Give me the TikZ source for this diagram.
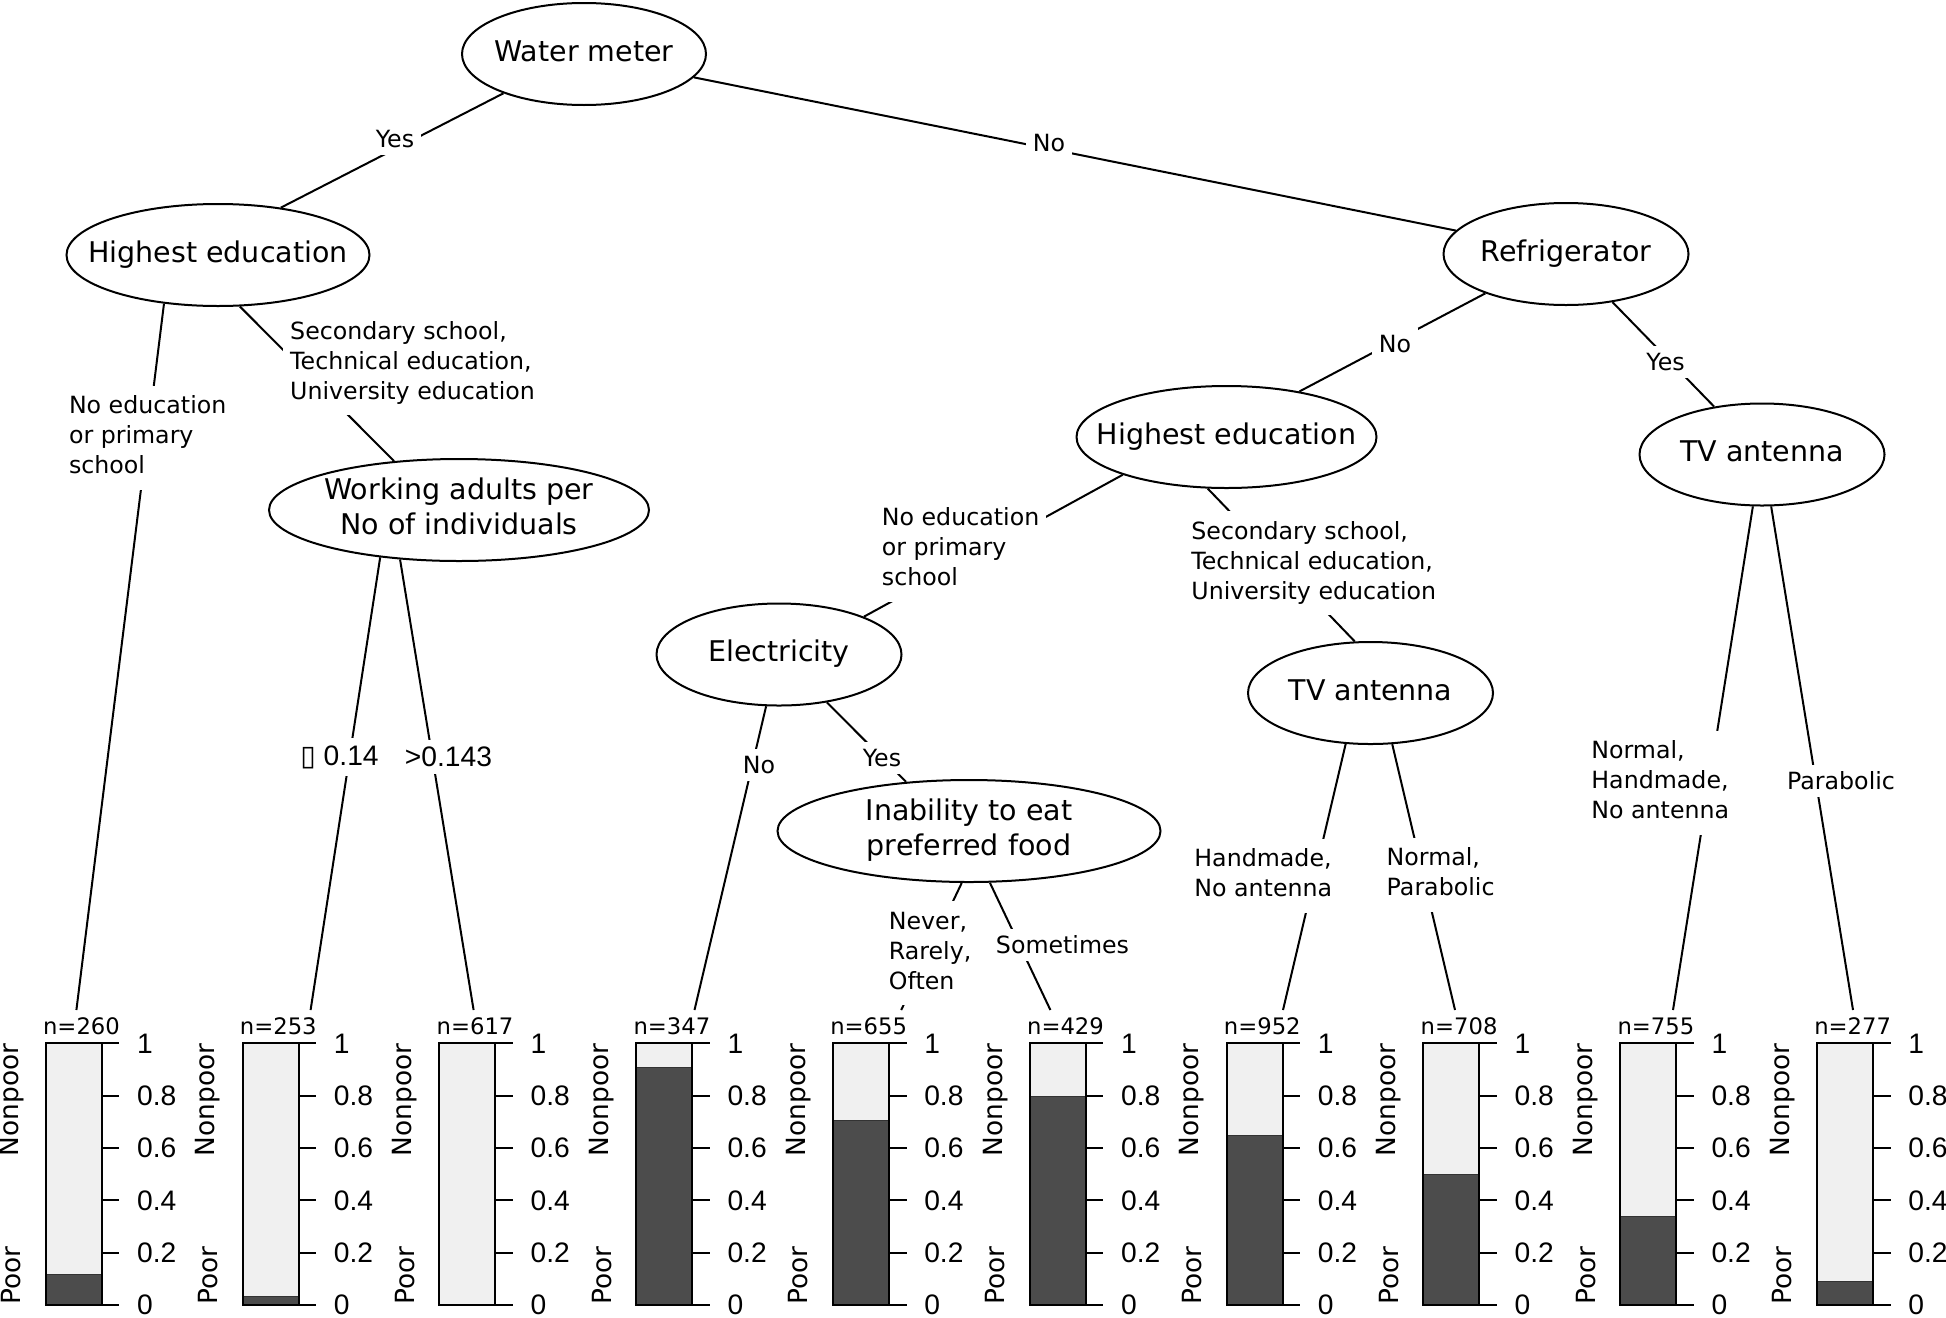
\documentclass[tikz,border=0pt]{standalone}
\usepackage{fontspec}
\setmainfont{DejaVu Sans}
\newfontfamily\arialfont{Liberation Sans}
\usepackage{tikz}
\usetikzlibrary{shapes.geometric}

\newcommand{\splitfont}{\fontsize{14.25pt}{17.75pt}\selectfont}
\newcommand{\labfont}{\fontsize{11.85pt}{15pt}\selectfont}
\newcommand{\thrfont}{\arialfont\fontsize{14.1pt}{16pt}\selectfont}
\newcommand{\clsfont}{\fontsize{13.2pt}{15pt}\selectfont}
\newcommand{\nfont}{\fontsize{11.35pt}{13pt}\selectfont}
\newcommand{\ctr}[1]{\makebox[0pt]{\begin{tabular}{@{}c@{}}#1\end{tabular}}}
\newcommand{\lns}[1]{\begin{tabular}{@{}l@{}}#1\end{tabular}}

\begin{document}
\begin{tikzpicture}[x=0.5pt, y=-0.5pt,
    split/.style={ellipse, draw, line width=1pt, fill=white, inner sep=0pt,
      minimum height=51pt, font=\splitfont},
    branch/.style={line width=1pt},
    lab/.style={fill=white, inner sep=3.5pt, font=\labfont},
    thr/.style={fill=white, inner sep=3.5pt, font=\thrfont},
    barline/.style={line width=1pt},
    ticklab/.style={anchor=west, inner sep=0pt, font=\thrfont},
    cls/.style={rotate=90, inner sep=0pt, font=\clsfont},
    nlab/.style={anchor=west, inner sep=0pt, font=\nfont}]

\useasboundingbox (0,0) rectangle (1946,1317);

% ---- terminal panels: share of poor / nonpoor ----
\foreach \p/\nn/\tx [count=\k] in {0.117/260/76.4, 0.032/253/310.6,
    0/617/473.6, 0.908/347/694.5, 0.704/655/901.2, 0.796/429/1050.4,
    0.647/952/1283, 0.50/708/1455, 0.337/755/1673, 0.092/277/1853}{
  \pgfmathsetmacro{\bx}{45.7+196.8*(\k-1)}
  \pgfmathsetmacro{\ax}{\bx+56}
  \pgfmathsetmacro{\py}{1305-261.7*\p}
  \fill[gray!12] (\bx,1043.3) rectangle (\ax,1305);
  \fill[black!70] (\bx,\py) rectangle (\ax,1305);
  \draw[black!80, line width=0.4pt] (\bx,\py) -- (\ax,\py);
  \draw[barline] (\bx,1043.3) rectangle (\ax,1305);
  \foreach \tl [count=\j from 0] in {0,0.2,0.4,0.6,0.8,1}{
    \draw[barline] (\ax,{1305-52.34*\j}) -- ++(17.6,0);
    \node[ticklab] (tk\k-\j) at ({\ax+35},{1305-52.34*\j}) {\tl};
  }
  \node[cls, anchor=east] (np\k) at ({\bx-34.5},1043.3) {Nonpoor};
  \node[cls, anchor=west] (po\k) at ({\bx-34.5},1305) {Poor};
  \node[nlab] (n\k) at ({\bx-3},1026) {n=\nn};
  \coordinate (t\k) at (\tx,1010);
}

% ---- inner nodes ----
\node[split, minimum width=122pt] (wm) at (584,54) {\ctr{Water meter}};
\node[split, minimum width=151.5pt] (he1) at (218,255) {\ctr{Highest education}};
\node[split, minimum width=122.5pt] (ref) at (1566,254) {\ctr{Refrigerator}};
\node[split, minimum width=190pt] (wa) at (459,510) {\ctr{Working adults per\\No of individuals}};
\node[split, minimum width=150pt] (he2) at (1226.5,437) {\ctr{Highest education}};
\node[split, minimum width=122.5pt] (elec) at (779,654.5) {\ctr{Electricity}};
\node[split, minimum width=122.5pt] (tvm) at (1370.5,693) {\ctr{TV antenna}};
\node[split, minimum width=122.5pt] (tvr) at (1762,454.5) {\ctr{TV antenna}};
\node[split, minimum width=191.5pt] (inab) at (969,831) {\ctr{Inability to eat\\preferred food}};

% ---- branches ----
\draw[branch] (wm.206) -- (he1.37);
\draw[branch] (wm.348.3) -- (ref.168);
\draw[branch] (he1.222) -- (t1);
\draw[branch] (he1.293.3) -- (wa.143);
\draw[branch] (wa.211.3) -- (t2);
\draw[branch] (wa.220.5) -- (t3);
\draw[branch] (ref.206.1) -- (he2.32.4);
\draw[branch] (ref.314.8) -- (tvr.135.3);
\draw[branch] (he2.200.5) -- (elec.24.6);
\draw[branch] (he2.250.4) -- (tvm.107);
\draw[branch] (elec.256) -- (t4);
\draw[branch] (elec.315.7) -- (inab.142.6);
\draw[branch] (inab.262) -- (t5);
\draw[branch] (inab.292.1) -- (t6);
\draw[branch] (tvm.244.4) -- (t7);
\draw[branch] (tvm.293.2) -- (t8);
\draw[branch] (tvr.260.7) -- (t9);
\draw[branch] (tvr.280.7) -- (t10);

% ---- branch labels ----
\node[lab] (yes1) at (395,139) {Yes};
\node[lab] (no1) at (1049,143) {No};
\node[lab, anchor=west] (low1) at (61.6,437.7) {\lns{No education\\or primary\\school}};
\node[lab, anchor=west] (high1) at (282.8,363) {\lns{Secondary school,\\Technical education,\\University education}};
\node[thr] (le1) at (339.5,757) {{\normalfont ▯} 0.14};
\node[thr] (gt1) at (448.5,757) {>0.143};
\node[lab] (no2) at (1395,344) {No};
\node[lab] (yes2) at (1665.5,362) {Yes};
\node[lab, anchor=west] (low2) at (874.5,549.5) {\lns{No education\\or primary\\school}};
\node[lab, anchor=west] (high2) at (1184,563) {\lns{Secondary school,\\Technical education,\\University education}};
\node[lab] (no3) at (759,765) {No};
\node[lab] (yes3) at (882,758) {Yes};
\node[lab, anchor=west] (nro) at (881.5,953) {\lns{Never,\\Rarely,\\Often}};
\node[lab] (some) at (1062.5,945) {Sometimes};
\node[lab, anchor=west] (hmna) at (1187,875.5) {\lns{Handmade,\\No antenna}};
\node[lab, anchor=west] (npar) at (1379.3,874.5) {\lns{Normal,\\Parabolic}};
\node[lab, anchor=west] (nhna) at (1584,782.5) {\lns{Normal,\\Handmade,\\No antenna}};
\node[lab] (par) at (1841,781) {Parabolic};

\end{tikzpicture}
\end{document}
